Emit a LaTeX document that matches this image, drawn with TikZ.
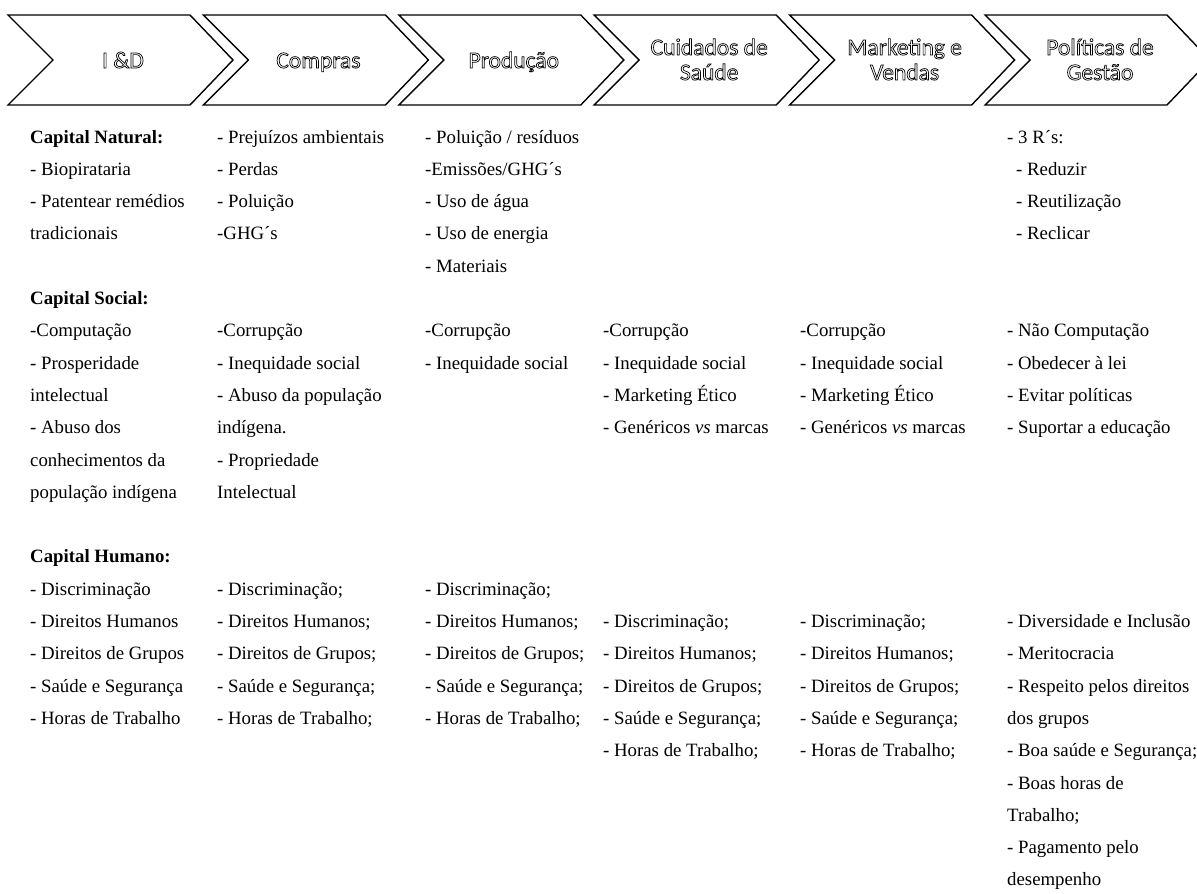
\documentclass[tikz,border=0pt]{standalone}
\usepackage{fontspec}
\setmainfont{Liberation Serif}
\newfontfamily\hdrfont{Carlito}
\tikzset{
  chev/.style={draw=black, line width=1.4pt, fill=white, line join=miter},
  hdr/.style={font=\hdrfont\fontsize{23.5}{25}\selectfont, align=center, anchor=base, inner sep=0pt},
  itm/.style={font=\fontsize{18.8}{22}\selectfont, anchor=base west, inner sep=0pt},
}
\newcommand\outl[1]{\special{pdf:literal direct 1 Tr 0.7 w}#1\special{pdf:literal direct 0 Tr}}
\newcommand\chevron[1]{\draw[chev] (#1,15) -- ++(182,0) -- ++(43,45) -- ++(-43,45) -- ++(-182,0) -- ++(45,-45) -- cycle;}
\newcommand\itm[4]{\node[itm] (#1) at (#2,{143+32.3*#3}) {#4};}
\begin{document}
\begin{tikzpicture}[x=1pt,y=-1pt]
\path[use as bounding box] (0,0) rectangle (1197,894);
\clip (0,0) rectangle (1197,894);
\fill[white] (0,0) rectangle (1197,894);
% chevrons
\chevron{8}
\chevron{203.4}
\chevron{398.8}
\chevron{594.2}
\chevron{789.6}
\chevron{985}
% headers
\node[hdr] (h1) at (123,68) {\outl{I \&D}};
\node[hdr] (h2) at (318.4,68) {\outl{Compras}};
\node[hdr] (h3) at (513.8,68) {\outl{Produção}};
\node[hdr] (h4) at (709.2,80) {\outl{Cuidados de}\\\outl{Saúde}};
\node[hdr] (h5) at (904.6,80) {\outl{Marketing e}\\\outl{Vendas}};
\node[hdr] (h6) at (1100,80) {\outl{Políticas de}\\\outl{Gestão}};
% Capital Natural
\itm{a0}{30}{0}{\textbf{Capital Natural:}}
\itm{a1}{30}{1}{- Biopirataria}
\itm{a2}{30}{2}{- Patentear remédios}
\itm{a3}{30}{3}{tradicionais}
\itm{b0}{217}{0}{- Prejuízos ambientais}
\itm{b1}{217}{1}{- Perdas}
\itm{b2}{217}{2}{- Poluição}
\itm{b3}{217}{3}{-GHG´s}
\itm{c0}{425}{0}{- Poluição / resíduos}
\itm{c1}{425}{1}{-Emissões/GHG´s}
\itm{c2}{425}{2}{- Uso de água}
\itm{c3}{425}{3}{- Uso de energia}
\itm{c4}{425}{4}{- Materiais}
\itm{f0}{1007}{0}{- 3 R´s:}
\itm{f1}{1016}{1}{- Reduzir}
\itm{f2}{1016}{2}{- Reutilização}
\itm{f3}{1016}{3}{- Reclicar}
% Capital Social
\itm{a5}{30}{5}{\textbf{Capital Social:}}
\itm{a6}{30}{6}{-Computação}
\itm{a7}{30}{7}{- Prosperidade}
\itm{a8}{30}{8}{intelectual}
\itm{a9}{30}{9}{- Abuso dos}
\itm{a10}{30}{10}{conhecimentos da}
\itm{a11}{30}{11}{população indígena}
\itm{b6}{217}{6}{-Corrupção}
\itm{b7}{217}{7}{- Inequidade social}
\itm{b8}{217}{8}{- Abuso da população}
\itm{b9}{217}{9}{indígena.}
\itm{b10}{217}{10}{- Propriedade}
\itm{b11}{217}{11}{Intelectual}
\itm{c6}{425}{6}{-Corrupção}
\itm{c7}{425}{7}{- Inequidade social}
\itm{d6}{603}{6}{-Corrupção}
\itm{d7}{603}{7}{- Inequidade social}
\itm{d8}{603}{8}{- Marketing Ético}
\itm{d9}{603}{9}{- Genéricos \textit{vs} marcas}
\itm{e6}{800}{6}{-Corrupção}
\itm{e7}{800}{7}{- Inequidade social}
\itm{e8}{800}{8}{- Marketing Ético}
\itm{e9}{800}{9}{- Genéricos \textit{vs} marcas}
\itm{f6}{1007}{6}{- Não Computação}
\itm{f7}{1007}{7}{- Obedecer à lei}
\itm{f8}{1007}{8}{- Evitar políticas}
\itm{f9}{1007}{9}{- Suportar a educação}
% Capital Humano
\itm{a13}{30}{13}{\textbf{Capital Humano:}}
\itm{a14}{30}{14}{- Discriminação}
\itm{a15}{30}{15}{- Direitos Humanos}
\itm{a16}{30}{16}{- Direitos de Grupos}
\itm{a17}{30}{17}{- Saúde e Segurança}
\itm{a18}{30}{18}{- Horas de Trabalho}
\itm{b14}{217}{14}{- Discriminação;}
\itm{b15}{217}{15}{- Direitos Humanos;}
\itm{b16}{217}{16}{- Direitos de Grupos;}
\itm{b17}{217}{17}{- Saúde e Segurança;}
\itm{b18}{217}{18}{- Horas de Trabalho;}
\itm{c14}{425}{14}{- Discriminação;}
\itm{c15}{425}{15}{- Direitos Humanos;}
\itm{c16}{425}{16}{- Direitos de Grupos;}
\itm{c17}{425}{17}{- Saúde e Segurança;}
\itm{c18}{425}{18}{- Horas de Trabalho;}
\itm{d15}{603}{15}{- Discriminação;}
\itm{d16}{603}{16}{- Direitos Humanos;}
\itm{d17}{603}{17}{- Direitos de Grupos;}
\itm{d18}{603}{18}{- Saúde e Segurança;}
\itm{d19}{603}{19}{- Horas de Trabalho;}
\itm{e15}{800}{15}{- Discriminação;}
\itm{e16}{800}{16}{- Direitos Humanos;}
\itm{e17}{800}{17}{- Direitos de Grupos;}
\itm{e18}{800}{18}{- Saúde e Segurança;}
\itm{e19}{800}{19}{- Horas de Trabalho;}
\itm{f15}{1007}{15}{- Diversidade e Inclusão}
\itm{f16}{1007}{16}{- Meritocracia}
\itm{f17}{1007}{17}{- Respeito pelos direitos}
\itm{f18}{1007}{18}{dos grupos}
\itm{f19}{1007}{19}{- Boa saúde e Segurança;}
\itm{f20}{1007}{20}{- Boas horas de}
\itm{f21}{1007}{21}{Trabalho;}
\itm{f22}{1007}{22}{- Pagamento pelo}
\itm{f23}{1007}{23}{desempenho}
\end{tikzpicture}
\end{document}
